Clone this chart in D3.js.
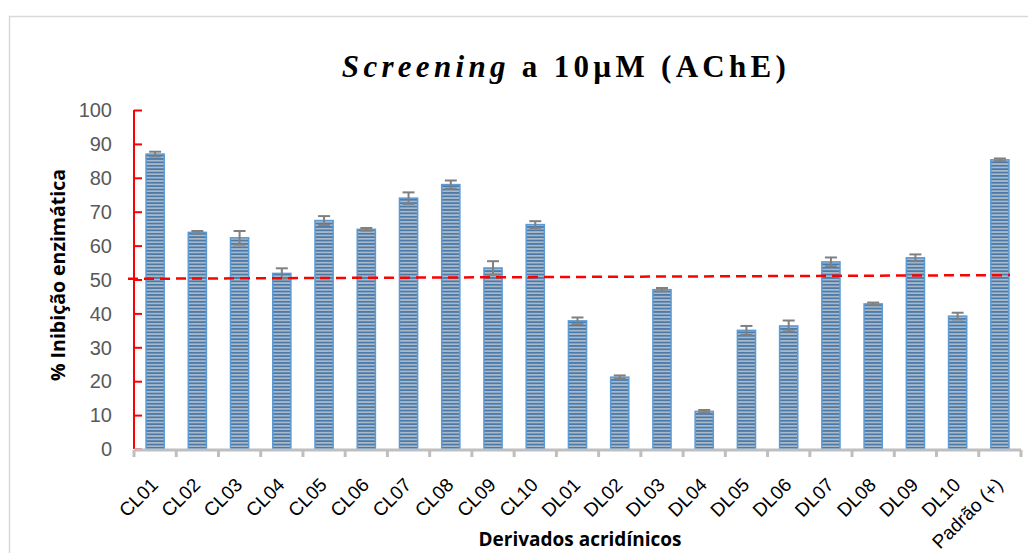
<!DOCTYPE html>
<html><head><meta charset="utf-8">
<script src="https://cdn.jsdelivr.net/npm/d3@7"></script>
<style>body{margin:0;background:#fff}svg{display:block}</style>
</head><body>
<svg id="c" width="1028" height="553"></svg>
<script>
const categories = ["CL01","CL02","CL03","CL04","CL05","CL06","CL07","CL08","CL09","CL10","DL01","DL02","DL03","DL04","DL05","DL06","DL07","DL08","DL09","DL10","Padrão (+)"];
const values = [87.0,63.9,62.3,51.8,67.4,64.8,74.0,78.0,53.4,66.2,37.8,21.2,47.0,11.1,35.0,36.3,55.2,42.8,56.4,39.2,85.3];
const errors = [0.7,0.4,2.0,1.5,1.3,0.4,1.7,1.2,2.0,1.0,1.0,0.5,0.5,0.4,1.3,1.6,1.3,0.4,1.0,1.0,0.4];
const yTicks = [0,10,20,30,40,50,60,70,80,90,100];
const thresholdLine = [50.2, 51.3];

const svg = d3.select("#c");
const m = {l:134, r:1021, t:110, b:449};
const x = d3.scaleBand().domain(categories).range([m.l, m.r]).paddingInner(0.57).paddingOuter(0.285);
const xb = d3.scaleBand().domain(categories).range([m.l, m.r]);
const y = d3.scaleLinear().domain([0,100]).range([m.b, m.t]);

// chart border
svg.append("rect").attr("x",9.5).attr("y",16.5).attr("width",1030).attr("height",560)
  .attr("fill","none").attr("stroke","#d9d9d9").attr("stroke-width",1.5);

// pattern
const defs = svg.append("defs");
const pat = defs.append("pattern").attr("id","stripe").attr("patternUnits","userSpaceOnUse")
  .attr("width",20).attr("height",3.4);
pat.append("rect").attr("width",20).attr("height",3.4).attr("fill","#a9b9c9");
pat.append("rect").attr("y",1.7).attr("width",20).attr("height",1.7).attr("fill","#4a7aaa");

// title
const title = svg.append("text").attr("x",566).attr("y",77).attr("text-anchor","middle")
  .attr("font-family","Liberation Serif, serif").attr("font-weight","bold").attr("font-size",31)
  .attr("letter-spacing",4.3).attr("fill","#000");
title.append("tspan").attr("font-style","italic").text("Screening");
title.append("tspan").text(" a 10µM (AChE)");

// bars
svg.append("g").selectAll("rect").data(categories).join("rect")
  .attr("x",d=>x(d)).attr("width",x.bandwidth())
  .attr("y",(d,i)=>y(values[i])).attr("height",(d,i)=>y(0)-y(values[i]))
  .attr("fill","url(#stripe)").attr("stroke","#5b9bd5").attr("stroke-width",1.5);

// error bars
const eg = svg.append("g").attr("stroke","#808080").attr("stroke-width",2);
categories.forEach((c,i)=>{
  const cx = x(c)+x.bandwidth()/2;
  eg.append("line").attr("x1",cx).attr("x2",cx).attr("y1",y(values[i]-errors[i])).attr("y2",y(values[i]+errors[i]));
  eg.append("line").attr("x1",cx-6).attr("x2",cx+6).attr("y1",y(values[i]+errors[i])).attr("y2",y(values[i]+errors[i]));
  eg.append("line").attr("x1",cx-6).attr("x2",cx+6).attr("y1",y(values[i]-errors[i])).attr("y2",y(values[i]-errors[i]));
});

// y axis
const ya = svg.append("g").attr("transform",`translate(${m.l},0)`)
  .call(d3.axisRight(y).tickValues(yTicks).tickSize(8).tickFormat(""));
ya.selectAll("line").attr("stroke","#ff0000").attr("stroke-width",2);
ya.select(".domain").attr("stroke","#ff0000").attr("stroke-width",2).attr("d",`M0,${m.t}V${m.b}`);
svg.append("g").selectAll("text").data(yTicks).join("text")
  .attr("x",112).attr("y",d=>y(d)).attr("dy","0.36em").attr("text-anchor","end")
  .attr("font-family","Liberation Sans, Arial, sans-serif").attr("font-size",20).attr("fill","#595959")
  .text(d=>d);

// x axis
const xa = svg.append("g").attr("transform",`translate(0,${m.b+1})`);
xa.append("line").attr("x1",m.l).attr("x2",m.r).attr("y1",0).attr("y2",0).attr("stroke","#bfbfbf").attr("stroke-width",3);
xa.selectAll("line.t").data(categories.concat(["end"])).join("line").attr("class","t")
  .attr("x1",(d,i)=>m.l+i*xb.step()).attr("x2",(d,i)=>m.l+i*xb.step())
  .attr("y1",0).attr("y2",7).attr("stroke","#bfbfbf").attr("stroke-width",3);
svg.append("g").selectAll("text").data(categories).join("text")
  .attr("transform",d=>`translate(${x(d)+x.bandwidth()/2+4},486) rotate(-45)`)
  .attr("text-anchor","end")
  .attr("font-family","Liberation Sans, Arial, sans-serif").attr("font-size",19).attr("fill","#000")
  .text(d=>d);

// threshold dashed line
svg.append("line").attr("x1",128).attr("x2",1010).attr("y1",y(thresholdLine[0])).attr("y2",y(thresholdLine[1]))
  .attr("stroke","#ff0000").attr("stroke-width",2.5).attr("stroke-dasharray","10,6");

// axis titles
svg.append("text").attr("transform","translate(65,275) rotate(-90)").attr("text-anchor","middle")
  .attr("font-family","Open Sans, Liberation Sans, sans-serif").attr("font-weight","bold").attr("font-size",19.5)
  .text("% Inibição enzimática");
svg.append("text").attr("x",580).attr("y",546).attr("text-anchor","middle")
  .attr("font-family","Open Sans, Liberation Sans, sans-serif").attr("font-weight","bold").attr("font-size",19)
  .text("Derivados acridínicos");
</script>
</body></html>
